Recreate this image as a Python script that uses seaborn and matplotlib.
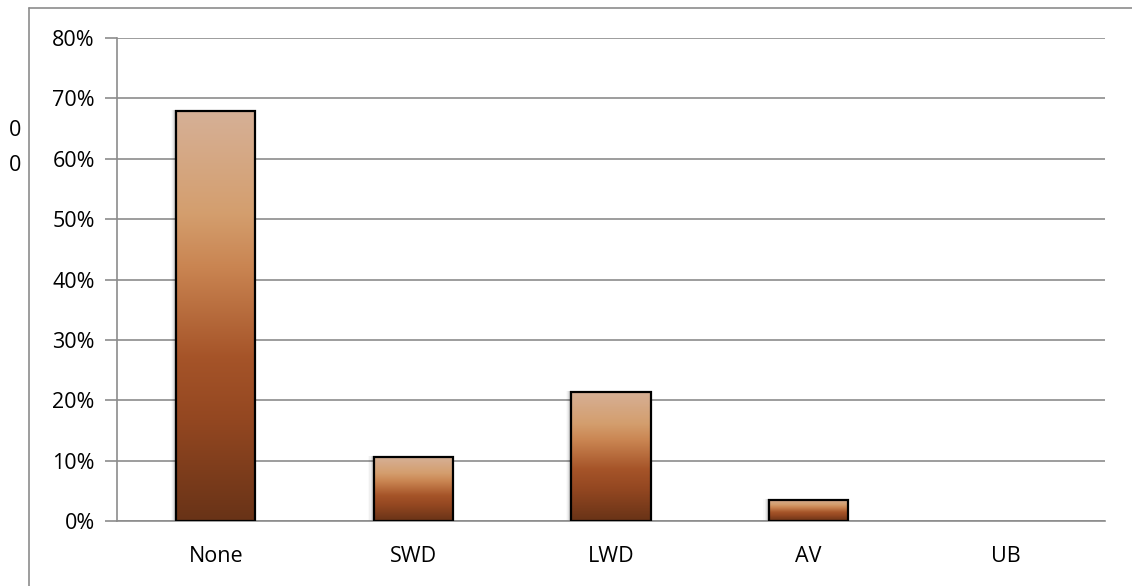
import numpy as np
import matplotlib
matplotlib.use("Agg")
import matplotlib.pyplot as plt
from matplotlib.colors import LinearSegmentedColormap
from matplotlib.lines import Line2D
import seaborn as sns
import pandas as pd

categories = ["None", "SWD", "LWD", "AV", "UB"]
values = [0.679, 0.106, 0.214, 0.035, 0.0]
yticks = [0, 0.1, 0.2, 0.3, 0.4, 0.5, 0.6, 0.7, 0.8]
ytick_labels = ["0%", "10%", "20%", "30%", "40%", "50%", "60%", "70%", "80%"]

sns.set_theme(style="white")
plt.rcParams['font.family'] = ['Open Sans', 'DejaVu Sans']

W, H = 1132, 586
fig = plt.figure(figsize=(W / 100, H / 100), dpi=100)
ax = fig.add_axes([117 / W, 1 - 521 / H, (1105 - 117) / W, (521 - 38) / H])

df = pd.DataFrame({"cat": categories, "val": values})
sns.barplot(data=df, x="cat", y="val", order=categories, width=0.4,
            color="#c08050", edgecolor="black", linewidth=1.6, ax=ax, zorder=3)

cmap = LinearSegmentedColormap.from_list("brown", [
    (0.0, (0.41, 0.20, 0.09)),
    (0.25, (0.58, 0.28, 0.13)),
    (0.40, (0.65, 0.33, 0.16)),
    (0.62, (0.79, 0.52, 0.32)),
    (0.75, (0.83, 0.62, 0.43)),
    (1.0, (0.84, 0.69, 0.59)),
])
grad = np.linspace(0, 1, 256).reshape(-1, 1)
for p in list(ax.patches):
    x0, y0 = p.get_x(), p.get_y()
    w, h = p.get_width(), p.get_height()
    if h <= 0:
        p.set_visible(False)
        continue
    for k, a in enumerate([0.12, 0.09, 0.06, 0.04, 0.02]):
        off = 0.005 + k * 0.006
        sh = plt.Rectangle((x0 - off, y0), w, h + 0.001, color="black",
                           alpha=a, lw=0, zorder=2)
        ax.add_patch(sh)
    im = ax.imshow(grad, cmap=cmap, origin="lower", aspect="auto",
                   extent=[x0, x0 + w, y0, y0 + h], zorder=3.5,
                   interpolation="bilinear")
    im.set_clip_path(p)
    p.set_facecolor("none")
    p.set_zorder(4)

ax.set_xlim(-0.5, 4.5)
ax.set_ylim(0, 0.8)
ax.set_yticks(yticks)
ax.set_yticklabels(ytick_labels)
ax.yaxis.grid(True, color="#8c8c8c", linewidth=1.2, zorder=0)
ax.set_axisbelow(True)
ax.set_xlabel("")
ax.set_ylabel("")

ax.set_xticks(range(len(categories)))
ax.set_xticklabels(categories)
ax.set_xticks(np.arange(-0.5, 5.0, 1.0), minor=True)
ax.tick_params(axis="x", which="major", length=0, pad=18, labelsize=15.5, colors="black")
ax.tick_params(axis="x", which="minor", length=7, width=1.2, color="#8c8c8c", direction="out")
ax.tick_params(axis="y", length=9, width=1.2, color="#8c8c8c", pad=7, labelsize=15.5,
               labelcolor="black", left=True)

for s in ["top", "right"]:
    ax.spines[s].set_visible(False)
for s in ["left", "bottom"]:
    ax.spines[s].set_visible(True)
    ax.spines[s].set_color("#8c8c8c")
    ax.spines[s].set_linewidth(1.2)

# outer chart frame (partial)
fig.add_artist(Line2D([29 / W, 29 / W], [0, 1 - 8 / H], color="#8c8c8c", lw=1.2))
fig.add_artist(Line2D([29 / W, 1.0], [1 - 8 / H, 1 - 8 / H], color="#8c8c8c", lw=1.2))

fig.text(9 / W, 1 - 130 / H, "0", fontsize=15.5, va="center", ha="left", color="black")
fig.text(9 / W, 1 - 165 / H, "0", fontsize=15.5, va="center", ha="left", color="black")

fig.savefig("out.png", dpi=100, facecolor="white")
